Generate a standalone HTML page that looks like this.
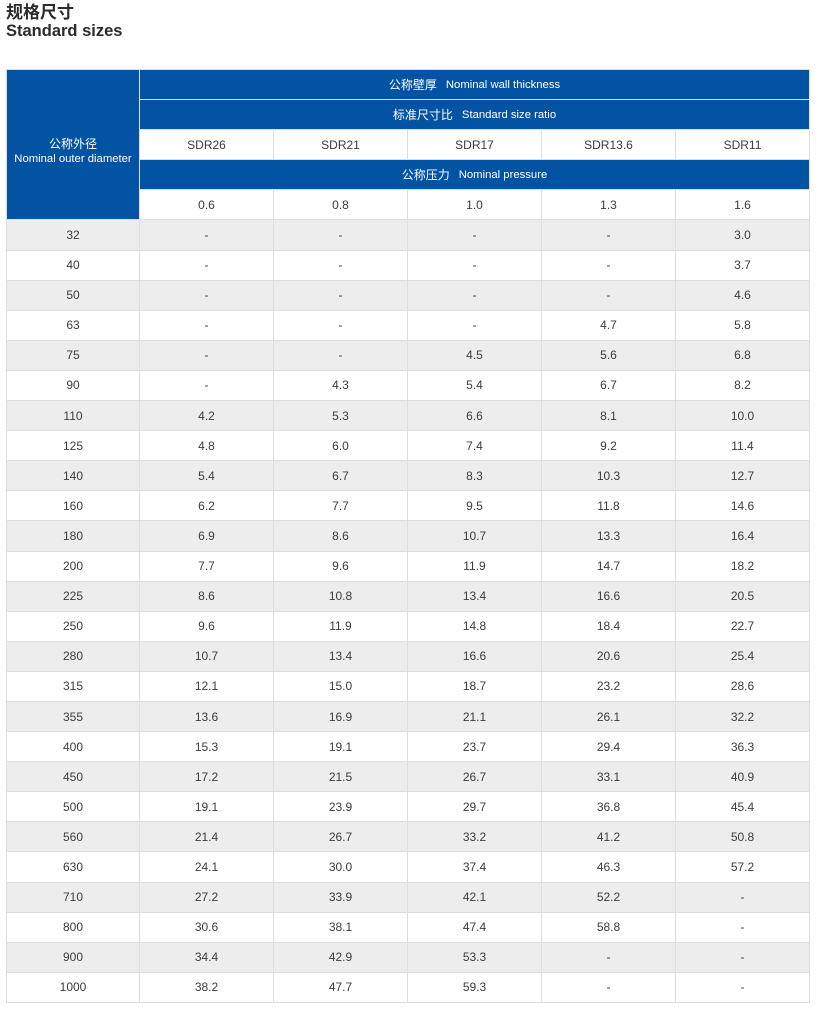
<!DOCTYPE html>
<html><head><meta charset="utf-8">
<style>
html,body{margin:0;padding:0;background:#fff;}
body{width:837px;height:1031px;position:relative;overflow:hidden;font-family:"Liberation Sans","Noto Sans CJK SC",sans-serif;}
.t1{position:absolute;left:6px;top:3px;font-size:17px;font-weight:bold;color:#2b2b2b;line-height:20px;font-family:"Liberation Sans","Noto Sans CJK SC",sans-serif;}
.t2{position:absolute;left:6px;top:21px;font-size:16.5px;font-weight:bold;color:#2b2b2b;line-height:20px;}
.grid{position:absolute;left:6px;top:69px;width:804px;height:934px;box-sizing:border-box;padding:1px;background:#dedede;display:grid;gap:1px;
grid-template-columns:132px repeat(5,133px);grid-template-rows:repeat(31,29.097px);}
.grid div{display:flex;align-items:center;justify-content:center;font-size:12px;color:#3c3c3c;background:#fff;white-space:nowrap;}
.grid div.g{background:#ededee;}
.grid div.b{background:#0353a4;color:#fff;}
.grid div.h{grid-column:2 / 7;}
.en{font-size:11.3px;margin-left:9px;}
.lc{grid-column:1;grid-row:1 / 6;flex-direction:column;}
.lc span{display:block;text-align:center;}
</style></head><body>
<div class="t1">规格尺寸</div>
<div class="t2">Standard sizes</div>
<div class="grid">
<div class="b lc"><span style="font-size:12px;line-height:15px;margin-top:14px">公称外径</span><span style="font-size:11.3px;line-height:14px">Nominal outer diameter</span></div>
<div class="b h" style="grid-row:1">公称壁厚<span class="en">Nominal wall thickness</span></div>
<div class="b h" style="grid-row:2">标准尺寸比<span class="en">Standard size ratio</span></div>
<div style="grid-row:3;grid-column:2">SDR26</div><div style="grid-row:3;grid-column:3">SDR21</div><div style="grid-row:3;grid-column:4">SDR17</div><div style="grid-row:3;grid-column:5">SDR13.6</div><div style="grid-row:3;grid-column:6">SDR11</div>
<div class="b h" style="grid-row:4">公称压力<span class="en">Nominal pressure</span></div>
<div style="grid-row:5;grid-column:2">0.6</div><div style="grid-row:5;grid-column:3">0.8</div><div style="grid-row:5;grid-column:4">1.0</div><div style="grid-row:5;grid-column:5">1.3</div><div style="grid-row:5;grid-column:6">1.6</div>
<div class="g">32</div><div class="g">-</div><div class="g">-</div><div class="g">-</div><div class="g">-</div><div class="g">3.0</div>
<div>40</div><div>-</div><div>-</div><div>-</div><div>-</div><div>3.7</div>
<div class="g">50</div><div class="g">-</div><div class="g">-</div><div class="g">-</div><div class="g">-</div><div class="g">4.6</div>
<div>63</div><div>-</div><div>-</div><div>-</div><div>4.7</div><div>5.8</div>
<div class="g">75</div><div class="g">-</div><div class="g">-</div><div class="g">4.5</div><div class="g">5.6</div><div class="g">6.8</div>
<div>90</div><div>-</div><div>4.3</div><div>5.4</div><div>6.7</div><div>8.2</div>
<div class="g">110</div><div class="g">4.2</div><div class="g">5.3</div><div class="g">6.6</div><div class="g">8.1</div><div class="g">10.0</div>
<div>125</div><div>4.8</div><div>6.0</div><div>7.4</div><div>9.2</div><div>11.4</div>
<div class="g">140</div><div class="g">5.4</div><div class="g">6.7</div><div class="g">8.3</div><div class="g">10.3</div><div class="g">12.7</div>
<div>160</div><div>6.2</div><div>7.7</div><div>9.5</div><div>11.8</div><div>14.6</div>
<div class="g">180</div><div class="g">6.9</div><div class="g">8.6</div><div class="g">10.7</div><div class="g">13.3</div><div class="g">16.4</div>
<div>200</div><div>7.7</div><div>9.6</div><div>11.9</div><div>14.7</div><div>18.2</div>
<div class="g">225</div><div class="g">8.6</div><div class="g">10.8</div><div class="g">13.4</div><div class="g">16.6</div><div class="g">20.5</div>
<div>250</div><div>9.6</div><div>11.9</div><div>14.8</div><div>18.4</div><div>22.7</div>
<div class="g">280</div><div class="g">10.7</div><div class="g">13.4</div><div class="g">16.6</div><div class="g">20.6</div><div class="g">25.4</div>
<div>315</div><div>12.1</div><div>15.0</div><div>18.7</div><div>23.2</div><div>28.6</div>
<div class="g">355</div><div class="g">13.6</div><div class="g">16.9</div><div class="g">21.1</div><div class="g">26.1</div><div class="g">32.2</div>
<div>400</div><div>15.3</div><div>19.1</div><div>23.7</div><div>29.4</div><div>36.3</div>
<div class="g">450</div><div class="g">17.2</div><div class="g">21.5</div><div class="g">26.7</div><div class="g">33.1</div><div class="g">40.9</div>
<div>500</div><div>19.1</div><div>23.9</div><div>29.7</div><div>36.8</div><div>45.4</div>
<div class="g">560</div><div class="g">21.4</div><div class="g">26.7</div><div class="g">33.2</div><div class="g">41.2</div><div class="g">50.8</div>
<div>630</div><div>24.1</div><div>30.0</div><div>37.4</div><div>46.3</div><div>57.2</div>
<div class="g">710</div><div class="g">27.2</div><div class="g">33.9</div><div class="g">42.1</div><div class="g">52.2</div><div class="g">-</div>
<div>800</div><div>30.6</div><div>38.1</div><div>47.4</div><div>58.8</div><div>-</div>
<div class="g">900</div><div class="g">34.4</div><div class="g">42.9</div><div class="g">53.3</div><div class="g">-</div><div class="g">-</div>
<div>1000</div><div>38.2</div><div>47.7</div><div>59.3</div><div>-</div><div>-</div>
</div>
</body></html>
